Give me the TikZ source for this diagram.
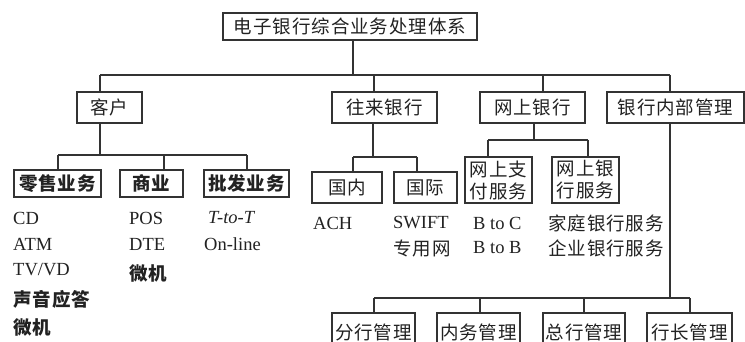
\documentclass[tikz,border=0pt]{standalone}
\usepackage{fontspec}
\setmainfont{Liberation Serif}
\newfontfamily\cjk[LetterSpace=5]{Noto Sans CJK SC}
\definecolor{ln}{HTML}{333333}
\definecolor{tx}{HTML}{222222}
\tikzset{
  box/.style={draw=ln, line width=1.1pt, inner sep=0pt, text=tx,
    font=\cjk\fontsize{18.5}{22}\selectfont, align=center},
  bbox/.style={box, font=\cjk\bfseries\fontsize{18.5}{22}\selectfont},
  conn/.style={draw=ln, line width=1.1pt},
  item/.style={anchor=west, inner sep=0pt, text=tx, font=\fontsize{18.5}{20}\selectfont},
  citem/.style={anchor=west, inner sep=0pt, text=tx, font=\cjk\fontsize{18.5}{20}\selectfont},
  cbitem/.style={citem, font=\cjk\bfseries\fontsize{18.5}{20}\selectfont}
}
\begin{document}
\begin{tikzpicture}[x=1pt,y=-1pt]
\useasboundingbox (0,0) rectangle (745,342);
\fill[white] (0,0) rectangle (745,342);
\clip (0,0) rectangle (745,342);
% top
\node[box, minimum width=254, minimum height=27] (top) at (350,26.5) {电子银行综合业务处理体系};
% level 1
\node[box, minimum width=65, minimum height=31] (kh) at (109.5,107.5) {客户};
\node[box, minimum width=105, minimum height=31] (wl) at (384.5,107.5) {往来银行};
\node[box, minimum width=105, minimum height=31] (ws) at (532.5,107.5) {网上银行};
\node[box, minimum width=137, minimum height=31] (nb) at (675.5,107.5) {银行内部管理};
% level 2
\node[bbox, minimum width=87, minimum height=27] (ls) at (57.5,183.5) {零售业务};
\node[bbox, minimum width=63, minimum height=27] (sy) at (151.5,183.5) {商业};
\node[bbox, minimum width=85, minimum height=27] (pf) at (246.5,183.5) {批发业务};
\node[box, minimum width=70, minimum height=31] (gn) at (347,187.5) {国内};
\node[box, minimum width=63, minimum height=31] (gj) at (425.5,187.5) {国际};
\node[box, minimum width=67, minimum height=46] (zf) at (498.5,180) {网上支\\付服务};
\node[box, minimum width=67, minimum height=46] (yh) at (585.5,180) {网上银\\行服务};
% bottom
\node[box, minimum width=83, minimum height=39] (fh) at (373.5,332.5) {分行管理};
\node[box, minimum width=83, minimum height=39] (nw) at (478.5,332.5) {内务管理};
\node[box, minimum width=82, minimum height=39] (zh) at (584,332.5) {总行管理};
\node[box, minimum width=85, minimum height=39] (hz) at (689.5,332.5) {行长管理};
% lists
\node[item] (i1) at (13,218) {CD};
\node[item] (i2) at (13,244) {ATM};
\node[item] (i3) at (13,270) {TV/VD};
\node[cbitem] (i4) at (13,299) {声音应答};
\node[cbitem] (i5) at (13,327) {微机};
\node[item] (j1) at (129,218) {POS};
\node[item] (j2) at (129,244) {DTE};
\node[cbitem] (j3) at (129,273) {微机};
\node[item] (k1) at (208,218) {\itshape T-to-T};
\node[item] (k2) at (204,244) {On-line};
\node[item] (m1) at (313,223) {ACH};
\node[item] (m2) at (393,223) {SWIFT};
\node[citem] (m3) at (393,248) {专用网};
\node[item] (n1) at (473,223) {B to C};
\node[item] (n2) at (473,248) {B to B};
\node[citem] (p1) at (548,223) {家庭银行服务};
\node[citem] (p2) at (548,248) {企业银行服务};
% connectors level 0 -> 1
\coordinate (a0) at (353,75);
\coordinate (aL) at (100,75);
\coordinate (a1) at (374,75);
\coordinate (a2) at (543,75);
\coordinate (aR) at (670,75);
\draw[conn] (top.south -| a0) -- (a0);
\draw[conn] (aL) -- (aR);
\draw[conn] (aL) -- (aL |- kh.north);
\draw[conn] (a1) -- (a1 |- wl.north);
\draw[conn] (a2) -- (a2 |- ws.north);
\draw[conn] (aR) -- (aR |- nb.north);
% under kh
\coordinate (b0) at (100,155);
\coordinate (bL) at (58,155);
\coordinate (b1) at (164,155);
\coordinate (bR) at (247,155);
\draw[conn] (kh.south -| b0) -- (b0);
\draw[conn] (bL) -- (bR);
\draw[conn] (bL) -- (bL |- ls.north);
\draw[conn] (b1) -- (b1 |- sy.north);
\draw[conn] (bR) -- (bR |- pf.north);
% under wl
\coordinate (c0) at (373,157);
\coordinate (cL) at (353,157);
\coordinate (cR) at (417,157);
\draw[conn] (wl.south -| c0) -- (c0);
\draw[conn] (cL) -- (cR);
\draw[conn] (cL) -- (cL |- gn.north);
\draw[conn] (cR) -- (cR |- gj.north);
% under ws
\coordinate (d0) at (534,140);
\coordinate (dL) at (488,140);
\coordinate (dR) at (588,140);
\draw[conn] (ws.south -| d0) -- (d0);
\draw[conn] (dL) -- (dR);
\draw[conn] (dL) -- (dL |- zf.north);
\draw[conn] (dR) -- (dR |- yh.north);
% under nb
\coordinate (e0) at (670,298);
\coordinate (eL) at (374,298);
\coordinate (e1) at (480,298);
\coordinate (e2) at (584,298);
\coordinate (eR) at (690,298);
\draw[conn] (nb.south -| e0) -- (e0);
\draw[conn] (eL) -- (eR);
\draw[conn] (eL) -- (eL |- fh.north);
\draw[conn] (e1) -- (e1 |- nw.north);
\draw[conn] (e2) -- (e2 |- zh.north);
\draw[conn] (eR) -- (eR |- hz.north);
\end{tikzpicture}
\end{document}
